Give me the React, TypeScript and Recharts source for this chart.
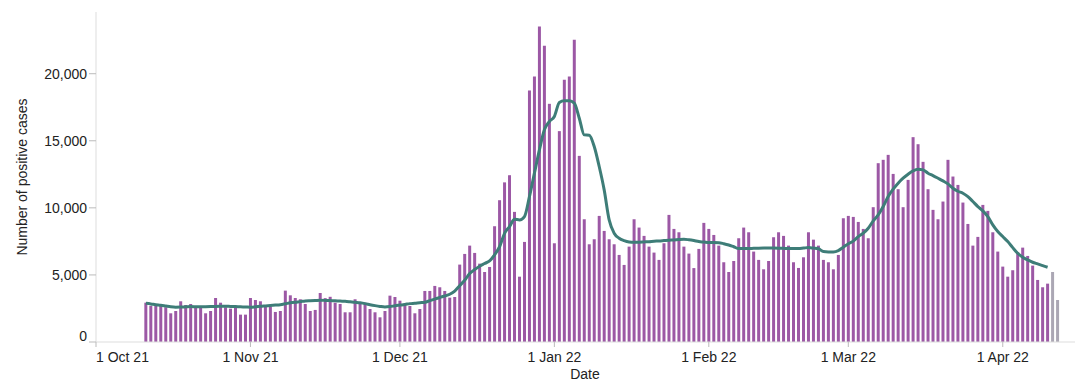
import React from 'react';
import { ComposedChart, Bar, Line, XAxis, YAxis } from 'recharts';

// Days after 1 Oct 2021 of the first bar (11 Oct 2021)
const FIRST_DAY = 10;

const cases = [
  2930, 2690, 2690, 2690, 2590, 2140, 2310, 3035, 2760, 2835,
  2590, 2590, 2140, 2310, 3280, 2930, 2590, 2485, 2590, 2040,
  2040, 3280, 3130, 3035, 2690, 2640, 2240, 2310, 3830, 3480,
  3280, 3185, 2835, 2310, 2390, 3655, 3270, 3370, 2930, 2835,
  2215, 2215, 3185, 2835, 2930, 2460, 2215, 1840, 2310, 3455,
  3355, 3080, 2885, 2685, 2140, 2460, 3805, 3805, 4180, 4080,
  3805, 3305, 3355, 5770, 6565, 7185, 6640, 5840, 5220, 5595,
  8630, 10570, 11900, 12435, 9700, 4870, 7460, 18750, 19790, 23520,
  22080, 17755, 7360, 15720, 19545, 19790, 22530, 13875, 9150, 7285,
  7660, 9400, 8280, 7660, 7285, 6490, 5745, 7110, 9150, 8530,
  7910, 7110, 6665, 6120, 7360, 9475, 8430, 8180, 7110, 6590,
  5510, 6940, 8880, 8430, 7980, 7185, 5945, 5220, 6040, 7735,
  8530, 8180, 6740, 6120, 5420, 6040, 7810, 8180, 7910, 7185,
  5945, 5520, 6315, 8180, 7630, 7185, 6120, 5945, 5420, 6490,
  9225, 9400, 9325, 8950, 8430, 7735, 10050, 13330, 13580, 13950,
  12530, 11390, 10050, 12085, 15270, 14745, 13430, 11390, 9850, 9150,
  10470, 13580, 12335, 11710, 10395, 8800, 7185, 7835, 10220, 9775,
  8180, 6740, 5620, 4870, 5350, 6690, 7035, 6415, 5695, 4625,
  4080, 4350,
];

const provisionalCases = [5220, 3130];

const rollingAverage = [
  2885, 2840, 2780, 2740, 2680, 2620, 2590, 2600, 2620, 2640,
  2630, 2620, 2630, 2640, 2650, 2660, 2665, 2650, 2640, 2620,
  2610, 2590, 2620, 2660, 2690, 2720, 2750, 2785, 2850, 2920,
  2970, 3010, 3060, 3080, 3095, 3110, 3100, 3085, 3070, 3050,
  3035, 3000, 2960, 2920, 2860, 2780, 2710, 2650, 2610, 2640,
  2700, 2750, 2800, 2860, 2890, 2930, 2960, 3080, 3200, 3320,
  3430, 3560, 3800, 4200, 4600, 5100, 5400, 5650, 5850, 6050,
  6500, 7100, 8100, 8600, 9150, 9100, 9350, 10840, 12585, 14320,
  15815, 16435, 16810, 17850, 17980, 17980, 17805, 16685, 15440, 15420,
  14570, 13080, 11340, 9100, 8110, 7735, 7560, 7460, 7435, 7440,
  7460, 7480, 7510, 7530, 7560, 7590, 7610, 7640, 7660, 7620,
  7560, 7485, 7450, 7410, 7410, 7400, 7330, 7235, 7100, 6965,
  6965, 6965, 6980, 6990, 7000, 7015, 7000, 6990, 6980, 6965,
  6965, 6965, 7000, 7040, 7000, 6950, 6740, 6715, 6715, 6815,
  7065, 7330, 7520, 7850, 8110, 8480, 9025, 9475, 10095, 10840,
  11390, 11840, 12210, 12510, 12755, 12880, 12830, 12585, 12405, 12210,
  12010, 11785, 11465, 11240, 11090, 10840, 10470, 10095, 9775, 9350,
  8730, 8230, 7860, 7485, 7035, 6615, 6315, 6120, 5945, 5820,
  5695, 5570,
];

const xTickDays = [0, 31, 61, 92, 123, 151, 182];
const xTickLabels = ['1 Oct 21', '1 Nov 21', '1 Dec 21', '1 Jan 22', '1 Feb 22', '1 Mar 22', '1 Apr 22'];
const yTicks = [0, 5000, 10000, 15000, 20000];

const total = cases.length + provisionalCases.length;
const data: any[] = [];
for (let i = 0; i < total; i++) {
  data.push({
    day: FIRST_DAY + i,
    cases: i < cases.length ? cases[i] : null,
    provisional: i >= cases.length ? provisionalCases[i - cases.length] : null,
    avg: i < rollingAverage.length ? rollingAverage[i] : null,
  });
}

const FONT = '"Liberation Sans", Arial, Helvetica, sans-serif';

const XTick = (props: any) => {
  const { x, y, payload } = props;
  const idx = xTickDays.indexOf(payload.value);
  const label = idx >= 0 ? xTickLabels[idx] : '';
  return (
    <text x={x} y={y} dy="0.71em" textAnchor={idx === 0 ? 'start' : 'middle'} fontFamily={FONT} fontSize={14} fill="#222">
      {label}
    </text>
  );
};

const YTick = (props: any) => {
  const { x, y, payload } = props;
  const v = payload.value as number;
  return (
    <text x={x} y={y} dy={v === 0 ? -1 : 5} textAnchor="end" fontFamily={FONT} fontSize={14} fill="#222">
      {v.toLocaleString('en-GB')}
    </text>
  );
};

const YTitle = () => (
  <text x={26.5} y={177} transform="rotate(-90, 26.5, 177)" textAnchor="middle" fontFamily={FONT} fontSize={14} fill="#222">
    Number of positive cases
  </text>
);

const XTitle = () => (
  <text x={585} y={379} textAnchor="middle" fontFamily={FONT} fontSize={14} fill="#222">
    Date
  </text>
);

export default function App() {
  return (
    <div style={{ position: 'absolute', left: 0, top: 0, background: '#fff' }}>
      <ComposedChart width={1080} height={389} data={data} margin={{ top: 12, right: 5, bottom: 0, left: 0 }}>
        <XAxis
          dataKey="day"
          type="number"
          domain={[0, 196.5]}
          ticks={xTickDays}
          interval={0}
          tick={<XTick />}
          tickSize={5}
          tickMargin={5}
          height={47}
          axisLine={{ stroke: '#ddd' }}
          tickLine={{ stroke: '#bbb' }}
          allowDataOverflow
          label={XTitle}
        />
        <YAxis
          width={96}
          domain={[0, 24600]}
          ticks={yTicks}
          interval={0}
          tick={<YTick />}
          tickSize={7}
          tickMargin={2}
          axisLine={{ stroke: '#ddd' }}
          tickLine={{ stroke: '#bbb' }}
          allowDataOverflow
          label={YTitle}
        />
        <Bar dataKey="cases" stackId="a" fill="#9c58a5" barSize={3} isAnimationActive={false} />
        <Bar dataKey="provisional" stackId="a" fill="#aba7b4" barSize={3} isAnimationActive={false} />
        <Line dataKey="avg" type="monotone" stroke="#3e7d78" strokeWidth={3} dot={false} isAnimationActive={false} />
      </ComposedChart>
    </div>
  );
}
